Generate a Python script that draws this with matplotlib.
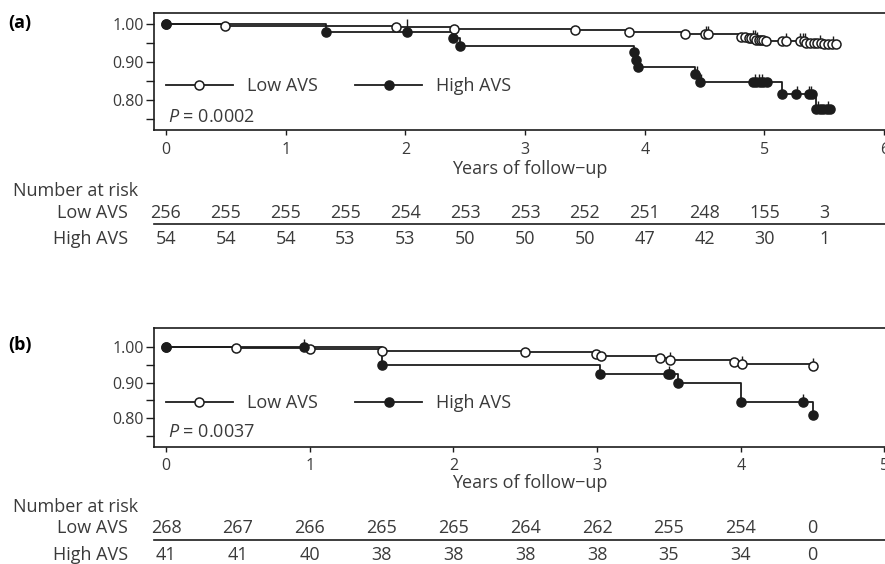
import numpy as np
import matplotlib
matplotlib.use('Agg')
import matplotlib.pyplot as plt
from matplotlib.lines import Line2D
from matplotlib.path import Path
from matplotlib.transforms import blended_transform_factory

plt.rcParams['font.family'] = ['Open Sans', 'DejaVu Sans']
plt.rcParams['mathtext.fontset'] = 'custom'
plt.rcParams['mathtext.rm'] = 'Open Sans'
plt.rcParams['mathtext.it'] = 'Open Sans:italic'

# ---------------- data: panel (a) ----------------
a_low_t = [0, 0.49, 1.92, 2.41, 3.42, 3.87, 4.34, 4.80, 4.87, 4.93, 5.01, 5.35, 5.50, 5.60]
a_low_s = [1.000, 0.996, 0.992, 0.988, 0.984, 0.980, 0.975, 0.968, 0.963, 0.960, 0.956, 0.952, 0.948, 0.948]
a_low_marks = [0, 0.49, 1.92, 2.41, 3.42, 3.87, 4.34, 4.50, 4.53, 4.80, 4.84, 4.87, 4.89, 4.91,
               4.93, 4.95, 4.97, 4.99, 5.01, 5.15, 5.18, 5.30, 5.33, 5.35, 5.38, 5.41, 5.44,
               5.47, 5.50, 5.53, 5.56, 5.60]
a_low_cens = [2.01, 4.51, 4.53, 4.90, 4.92, 4.94, 5.18, 5.30, 5.32, 5.34, 5.46, 5.57]

a_high_t = [0, 1.34, 2.40, 2.46, 3.91, 3.925, 3.94, 4.42, 4.46, 5.15, 5.43, 5.55]
a_high_s = [1.000, 0.981, 0.963, 0.944, 0.926, 0.907, 0.887, 0.868, 0.848, 0.817, 0.776, 0.776]
a_high_marks = [0, 1.34, 2.01, 2.40, 2.46, 3.91, 3.925, 3.94, 4.42, 4.46, 4.90, 4.93, 4.96,
                4.99, 5.02, 5.15, 5.26, 5.37, 5.40, 5.43, 5.46, 5.49, 5.52, 5.55]
a_high_cens = [4.44, 4.47, 4.92, 4.95, 4.98, 5.27, 5.37, 5.39, 5.45, 5.53]

a_risk_t = [0, 0.5, 1, 1.5, 2, 2.5, 3, 3.5, 4, 4.5, 5, 5.5]
a_risk_low = [256, 255, 255, 255, 254, 253, 253, 252, 251, 248, 155, 3]
a_risk_high = [54, 54, 54, 53, 53, 50, 50, 50, 47, 42, 30, 1]
a_p = "0.0002"

# ---------------- data: panel (b) ----------------
b_low_t = [0, 0.49, 1.00, 1.50, 2.50, 2.99, 3.03, 3.44, 3.51, 3.95, 4.01, 4.50]
b_low_s = [1.000, 0.997, 0.993, 0.989, 0.986, 0.980, 0.974, 0.968, 0.962, 0.957, 0.951, 0.946]
b_low_marks = [0, 0.49, 1.00, 1.50, 2.50, 2.99, 3.03, 3.44, 3.51, 3.95, 4.01, 4.50]
b_low_cens = [3.51, 4.01, 4.50]

b_high_t = [0, 1.50, 3.02, 3.56, 4.00, 4.50]
b_high_s = [1.000, 0.950, 0.925, 0.900, 0.847, 0.810]
b_high_marks = [0, 0.96, 1.50, 3.02, 3.49, 3.51, 3.56, 4.00, 4.43, 4.50]
b_high_cens = [0.96, 3.50, 4.43]

b_risk_t = [0, 0.5, 1, 1.5, 2, 2.5, 3, 3.5, 4, 4.5]
b_risk_low = [268, 267, 266, 265, 265, 264, 262, 255, 254, 0]
b_risk_high = [41, 41, 40, 38, 38, 38, 38, 35, 34, 0]
b_p = "0.0037"

yticks = [0.80, 0.90, 1.00]
yticklabels = ["0.80", "0.90", "1.00"]
yminor = [0.75, 0.85, 0.95]
groups = ["Low AVS", "High AVS"]

# ---------------- styling ----------------
W, H = 885, 564
fig = plt.figure(figsize=(W / 100, H / 100), dpi=100)
TXT = '#3a3a3a'
LC = '#1c1c1c'
up_tick = Path([(0, 0), (0, 1)])


def fx(x):
    return x / W


def fy(y):
    return 1 - y / H


def surv_at(times, ts, ss):
    ts = np.asarray(ts)
    ss = np.asarray(ss)
    idx = np.searchsorted(ts, np.asarray(times), side='right') - 1
    return ss[idx]


def draw_curve(ax, ts, ss, marks, cens, filled):
    ax.step(ts, ss, where='post', color=LC, lw=1.3, zorder=3)
    ax.plot(cens, surv_at(cens, ts, ss), ls='none', marker=up_tick, ms=12,
            mec=LC, mew=1.0, zorder=4)
    ax.plot(marks, surv_at(marks, ts, ss), ls='none', marker='o', ms=6.5,
            mfc=LC if filled else 'white', mec=LC, mew=1.1, zorder=5)


def panel(top, bottom, xlim, ylim, xticks, low, high, risk_t, risk_low, risk_high,
          pval, tag, tag_base, ticklab_base, xlab_base, nar_base, low_base, line_y,
          high_base, leg_y, p_y):
    ax = fig.add_axes([fx(154), fy(bottom), fx(897) - fx(154), fy(top) - fy(bottom)])
    draw_curve(ax, *low, filled=False)
    draw_curve(ax, *high, filled=True)
    ax.set_xlim(*xlim)
    ax.set_ylim(*ylim)
    for sp in ax.spines.values():
        sp.set_color(LC)
        sp.set_linewidth(1.2)
    ax.set_yticks(yticks)
    ax.set_yticklabels(yticklabels)
    ax.set_yticks(yminor, minor=True)
    ax.tick_params(axis='y', which='both', direction='out', length=5.5, width=1.0,
                   color=LC, labelsize=11.5, labelcolor=TXT, pad=2.0)
    ax.set_xticks(xticks)
    ax.set_xticklabels([])
    ax.tick_params(axis='x', which='both', direction='out', length=3.5, width=1.0,
                   color=LC)
    tx = blended_transform_factory(ax.transData, fig.transFigure)
    for t in xticks:
        fig.text(t, fy(ticklab_base), str(t), transform=tx, ha='center',
                 va='baseline', fontsize=11.5, color=TXT)
    fig.text(fx(530), fy(xlab_base), "Years of follow\u2212up", ha='center',
             va='baseline', fontsize=13, color=TXT)

    handles = [Line2D([], [], color=LC, lw=1.3, marker='o', ms=6.5, mfc='white',
                      mec=LC, mew=1.1),
               Line2D([], [], color=LC, lw=1.3, marker='o', ms=6.5, mfc=LC,
                      mec=LC, mew=1.1)]
    ax.legend(handles, groups, loc='center left', bbox_to_anchor=(0.0162, leg_y),
              ncol=2, frameon=False, fontsize=13, labelcolor=TXT, borderpad=0,
              borderaxespad=0, handlelength=3.7, handletextpad=0.8,
              columnspacing=2.05, numpoints=1)
    ax.text(0.019, p_y, r"$P$ = " + pval, transform=ax.transAxes, ha='left',
            va='center', fontsize=13, color=TXT)

    fig.text(fx(8), fy(tag_base), tag, ha='left', va='baseline', fontsize=13,
             fontweight='bold', color='black')

    # number at risk table
    fig.text(fx(13), fy(nar_base), "Number at risk", ha='left', va='baseline',
             fontsize=13, color=TXT)
    fig.text(fx(128), fy(low_base), groups[0], ha='right', va='baseline',
             fontsize=13, color=TXT)
    fig.text(fx(128), fy(high_base), groups[1], ha='right', va='baseline',
             fontsize=13, color=TXT)
    for t, n in zip(risk_t, risk_low):
        fig.text(t, fy(low_base), str(n), transform=tx, ha='center',
                 va='baseline', fontsize=13, color=TXT)
    for t, n in zip(risk_t, risk_high):
        fig.text(t, fy(high_base), str(n), transform=tx, ha='center',
                 va='baseline', fontsize=13, color=TXT)
    fig.add_artist(Line2D([fx(154), 1.0], [fy(line_y), fy(line_y)],
                          transform=fig.transFigure, color=LC, lw=1.2))
    return ax


panel(12.7, 130.3, (-0.100, 6.107), (0.720, 1.031), [0, 1, 2, 3, 4, 5, 6],
      (a_low_t, a_low_s, a_low_marks, a_low_cens),
      (a_high_t, a_high_s, a_high_marks, a_high_cens),
      a_risk_t, a_risk_low, a_risk_high, a_p, "(a)",
      tag_base=28, ticklab_base=154, xlab_base=174.5, nar_base=196,
      low_base=217.5, line_y=224, high_base=244, leg_y=0.377, p_y=0.113)

panel(328.3, 446.5, (-0.0835, 5.087), (0.721, 1.052), [0, 1, 2, 3, 4, 5],
      (b_low_t, b_low_s, b_low_marks, b_low_cens),
      (b_high_t, b_high_s, b_high_marks, b_high_cens),
      b_risk_t, b_risk_low, b_risk_high, b_p, "(b)",
      tag_base=350, ticklab_base=470, xlab_base=487.5, nar_base=511.5,
      low_base=533, line_y=540, high_base=560, leg_y=0.368, p_y=0.123)

fig.savefig('out.png', dpi=100)
